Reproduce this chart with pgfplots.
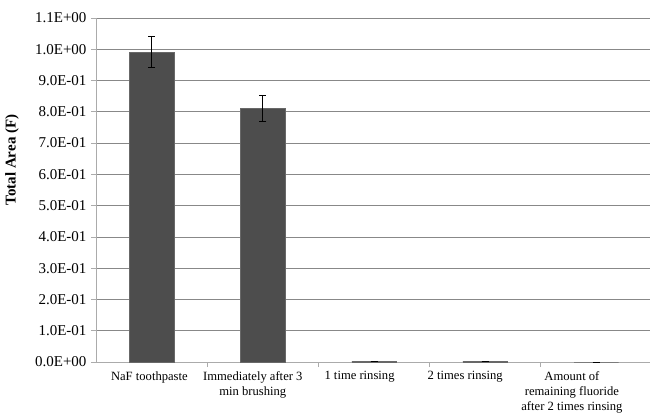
\documentclass[border=0pt]{standalone}
\usepackage{fontspec}
\setmainfont{Liberation Serif}
\usepackage{pgfplots}
\pgfplotsset{compat=1.18}
\definecolor{barfill}{HTML}{4D4D4D}
\definecolor{gridgray}{HTML}{888888}
\definecolor{axisgray}{HTML}{ABABAB}
\begin{document}
\begin{tikzpicture}
\begin{axis}[
  name=ax,
  scale only axis,
  width=556pt, height=344pt,
  xmin=-0.5, xmax=4.5,
  ymin=0, ymax=1.1,
  axis x line*=bottom,
  axis y line*=left,
  axis line style={axisgray, line width=0.8pt},
  ymajorgrids=true,
  grid style={gridgray, line width=0.8pt},
  ytick={0,0.1,0.2,0.3,0.4,0.5,0.6,0.7,0.8,0.9,1.0,1.1},
  yticklabels={0.0E+00,1.0E-01,2.0E-01,3.0E-01,4.0E-01,5.0E-01,6.0E-01,7.0E-01,8.0E-01,9.0E-01,1.0E+00,1.1E+00},
  major y tick style={axisgray, line width=0.8pt},
  major tick length=5pt,
  y tick label style={font=\fontsize{15}{16}\selectfont, xshift=-1pt},
  % label centres as laid out in the original (slightly left of bar centres)
  xtick={-0.02,0.91,1.87,2.82,3.78},
  xticklabels={NaF toothpaste, Immediately after 3\\min brushing, 1 time rinsing, 2 times rinsing, Amount of\\remaining fluoride\\after 2 times rinsing},
  x tick label style={align=center, font=\fontsize{12.6}{15}\selectfont, yshift=-1pt},
  major x tick style={draw=none},
  minor xtick={0.5,1.5,2.5,3.5,4.5},
  minor x tick style={axisgray, line width=0.8pt},
  minor tick length=5pt,
  xtick pos=bottom,
  ytick pos=left,
  tick align=outside,
  ylabel={\textbf{Total Area (F)}},
  ylabel style={font=\fontsize{15}{16}\selectfont, at={(rel axis cs:0,0.5)}, anchor=center, xshift=30pt, yshift=84pt},
  /pgf/number format/assume math mode=true,
]
\addplot[ybar, bar width=44.5pt, fill=barfill, draw=barfill!85!white,
  error bars/.cd, y dir=both, y explicit,
  error bar style={black, line width=0.7pt},
  error mark options={rotate=90, mark size=3.5pt, line width=0.7pt}]
  coordinates {(0,0.991) +- (0,0.050) (1,0.811) +- (0,0.041) (2,0.003) +- (0,0) (3,0.003) +- (0,0) (4,0) +- (0,0)};
\end{axis}
\pgfresetboundingbox
\path[use as bounding box] ([xshift=-96pt,yshift=-51pt]ax.south west) rectangle ([xshift=-2pt,yshift=18pt]ax.north east);
\end{tikzpicture}
\end{document}
